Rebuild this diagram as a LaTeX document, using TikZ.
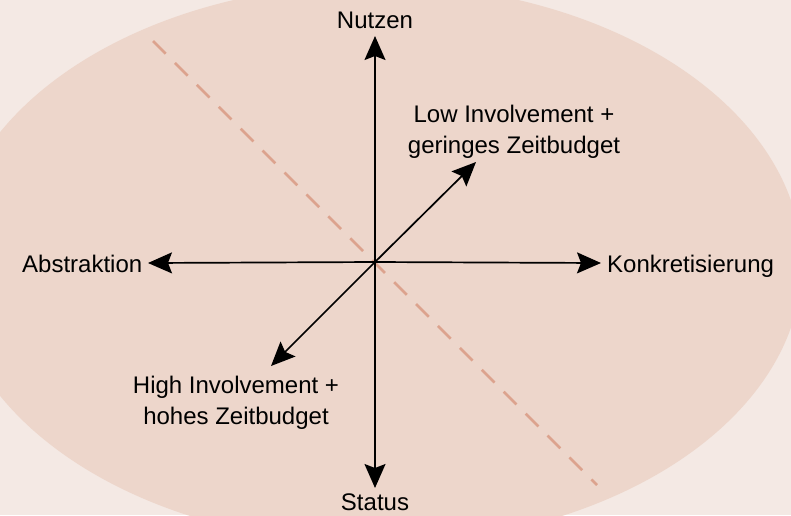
\documentclass[tikz,border=0pt]{standalone}
\usepackage{fontspec}
\setmainfont{Liberation Sans}
\usetikzlibrary{arrows.meta}
\definecolor{bgc}{HTML}{F4E9E4}
\definecolor{ellc}{HTML}{EDD6CB}
\definecolor{dashc}{HTML}{DCA38E}
\begin{document}
\begin{tikzpicture}[x=1pt,y=-1pt,
  axis/.style={line width=1.7pt,-{Stealth[length=24pt,width=21pt,inset=4pt]}},
  lbl/.style={font=\fontsize{24}{31}\selectfont,inner sep=0pt,align=center},
  dashline/.style={dashc,line width=2.6pt,dash pattern=on 18pt off 13pt}]
\fill[bgc] (0,0) rectangle (791,515);
\useasboundingbox (0,0) rectangle (791,515);
\begin{scope}
\clip (0,0) rectangle (791,515);
\fill[ellc] (376,264) ellipse [x radius=426, y radius=280];
\end{scope}
% coordinates
\coordinate (O) at (375,262);
\coordinate (tn) at (375,36);
\coordinate (ts) at (375,488);
\coordinate (te) at (601,263);
\coordinate (tw) at (148,263);
\coordinate (tne) at (476,162);
\coordinate (tsw) at (271,366);
\coordinate (d1) at (153,41);
\coordinate (d2) at (597,485);
% dashed diagonal
\draw[dashline] (d1) -- (d2);
% axes
\draw[axis] (O) -- (tn);
\draw[axis] (O) -- (ts);
\draw[axis] (O) -- (te);
\draw[axis] (O) -- (tw);
\draw[axis] (O) -- (tne);
\draw[axis] (O) -- (tsw);
% labels
\node[lbl,anchor=base] (nutzen) at (375,28) {Nutzen};
\node[lbl,anchor=base] (status) at (375,510) {Status};
\node[lbl,anchor=base west] (abstr) at (22,272) {Abstraktion};
\node[lbl,anchor=base west] (konk) at (607,272) {Konkretisierung};
\node[lbl,anchor=north] (low) at (514,105) {Low Involvement +\\geringes Zeitbudget};
\node[lbl,anchor=north] (high) at (236,376) {High Involvement +\\hohes Zeitbudget};
\end{tikzpicture}
\end{document}
